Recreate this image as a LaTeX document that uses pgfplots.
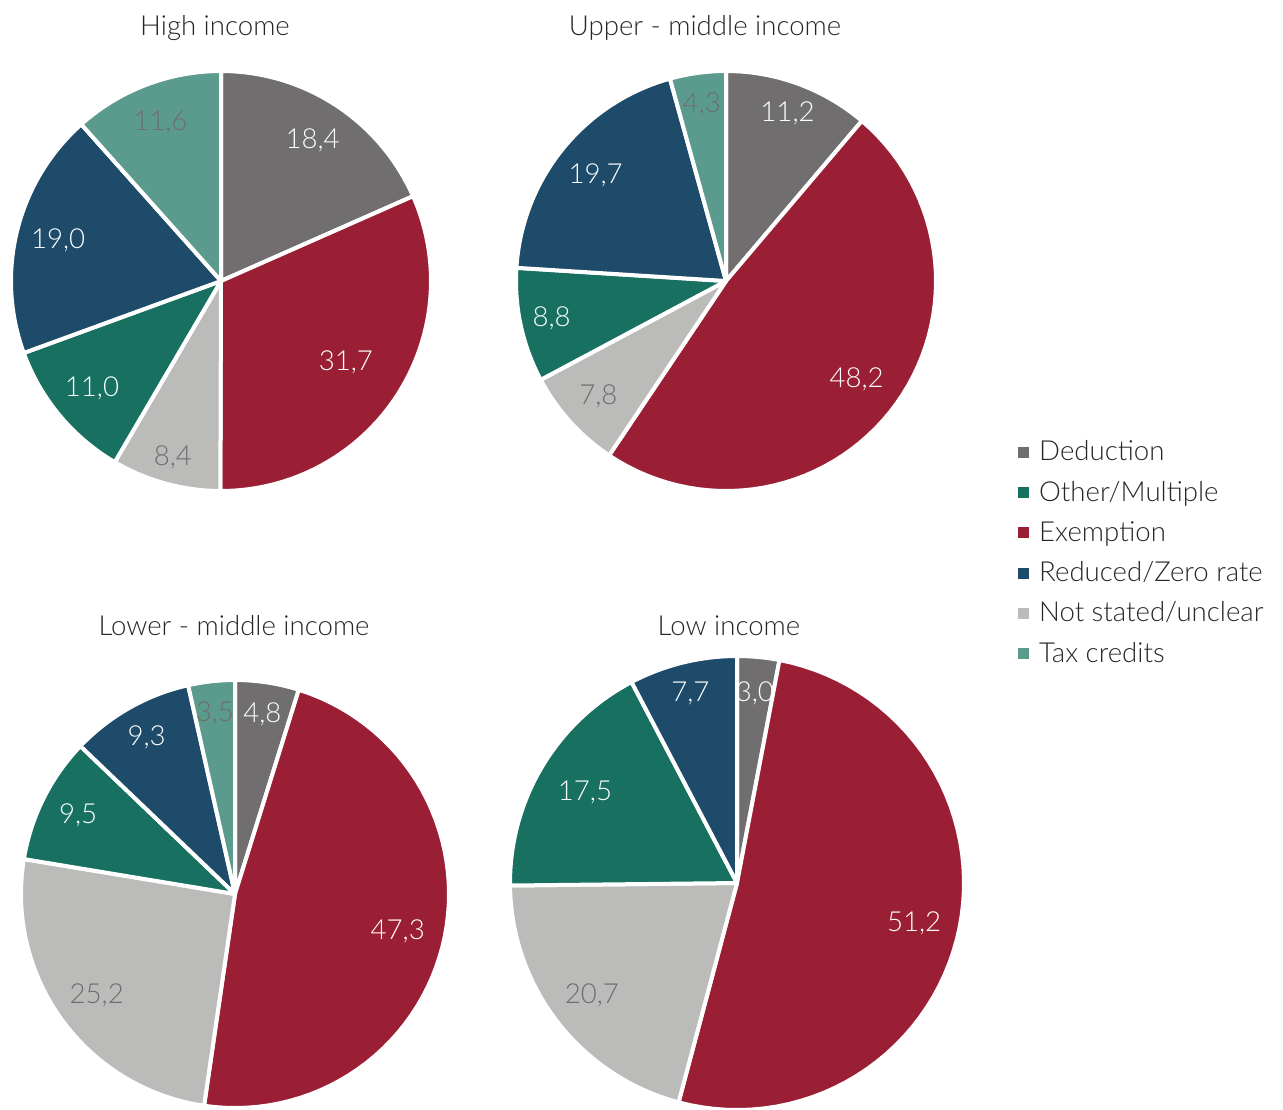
\documentclass[border=0pt]{standalone}
\usepackage{pgfplots}
\usepackage{pgfplotstable}
\pgfplotsset{compat=1.18}
\usepackage{fontspec}
\setmainfont{Lato Light}

\definecolor{cded}{HTML}{706E6F}
\definecolor{cexe}{HTML}{9A1F34}
\definecolor{cnot}{HTML}{BBBBBA}
\definecolor{coth}{HTML}{177060}
\definecolor{cred}{HTML}{1E4B69}
\definecolor{ctax}{HTML}{5B9B8E}
\definecolor{ctxg}{HTML}{6F6D6D}
\definecolor{ctitle}{HTML}{262626}

\newcommand{\ff}{\fontsize{13.8}{16}\selectfont}
\pgfkeys{/pgf/number format/.cd, use comma, fixed, fixed zerofill, precision=1, assume math mode=true}

% slices clockwise from 12 o'clock: value, fill, label colour, label radius
\pgfplotstableread{
v    col  txt   r
18.4 cded white 0.80
31.7 cexe white 0.71
8.4  cnot ctxg  0.87
11.0 coth white 0.80
19.0 cred white 0.80
11.6 ctax ctxg  0.81
}\highinc
\pgfplotstableread{
v    col  txt   r
11.2 cded white 0.85
48.2 cexe white 0.78
7.8  cnot ctxg  0.82
8.8  coth white 0.85
19.7 cred white 0.80
4.3  ctax ctxg  0.85
}\uppinc
\pgfplotstableread{
v    col  txt   r
4.8  cded white 0.85
47.3 cexe white 0.78
25.2 cnot ctxg  0.80
9.5  coth white 0.82
9.3  cred white 0.84
3.5  ctax ctxg  0.85
}\lowmidinc
\pgfplotstableread{
v    col  txt   r
3.0  cded white 0.84
51.2 cexe white 0.80
20.7 cnot ctxg  0.81
17.5 coth white 0.78
7.7  cred white 0.86
}\lowinc

% builds the plot commands of one pie into #2 (run outside the axis)
\newcommand{\preppie}[2]{%
  \pgfplotstablegetrowsof{#1}%
  \pgfmathtruncatemacro{\lastrow}{\pgfplotsretval-1}%
  \gdef\pietot{0}%
  \foreach \i in {0,...,\lastrow}{%
    \pgfplotstablegetelem{\i}{v}\of{#1}%
    \pgfmathparse{\pietot+\pgfplotsretval}\xdef\pietot{\pgfmathresult}}%
  \gdef\piecum{0}%
  \gdef#2{}%
  \foreach \i in {0,...,\lastrow}{%
    \pgfplotstablegetelem{\i}{v}\of{#1}\let\val\pgfplotsretval
    \pgfplotstablegetelem{\i}{col}\of{#1}\let\wcol\pgfplotsretval
    \pgfplotstablegetelem{\i}{txt}\of{#1}\let\tcol\pgfplotsretval
    \pgfplotstablegetelem{\i}{r}\of{#1}\let\rfac\pgfplotsretval
    \pgfmathsetmacro{\pa}{\piecum/\pietot*360}%
    \pgfmathsetmacro{\pb}{(\piecum+\val)/\pietot*360}%
    \pgfmathsetmacro{\pmid}{(\pa+\pb)/2}%
    \pgfmathsetmacro{\lx}{\rfac*sin(\pmid)}%
    \pgfmathsetmacro{\ly}{\rfac*cos(\pmid)}%
    \xdef#2{\expandafter\unexpanded\expandafter{#2}%
      \noexpand\addplot[fill=\wcol, draw=white, line width=2pt, line join=round,
        domain=\pa:\pb, samples=60] ({sin(x)},{cos(x)}) -- (0,0) -- cycle;
      \noexpand\node[text=\tcol, font=\noexpand\ff] at (\lx,\ly) {\noexpand\pgfmathprintnumber{\val}};}%
    \pgfmathparse{\piecum+\val}\xdef\piecum{\pgfmathresult}}%
}

\pgfplotsset{pie/.style={hide axis, scale only axis, xmin=-1, xmax=1, ymin=-1, ymax=1,
  clip=false, anchor=center}}

\preppie{\highinc}{\pieA}
\preppie{\uppinc}{\pieB}
\preppie{\lowmidinc}{\pieC}
\preppie{\lowinc}{\pieD}

\begin{document}
\begin{tikzpicture}
\path[use as bounding box] (0,0) rectangle (641.5pt,-554.5pt);

\begin{axis}[pie, at={(110.5pt,-140.5pt)}, width=210pt, height=210pt]
\pieA
\end{axis}
\begin{axis}[pie, at={(363pt,-140.5pt)}, width=210pt, height=210pt]
\pieB
\end{axis}
\begin{axis}[pie, at={(117.5pt,-447pt)}, width=214pt, height=214pt]
\pieC
\end{axis}
\begin{axis}[pie, at={(368.5pt,-441.5pt)}, width=227pt, height=227pt]
\pieD
\end{axis}

\node[font=\ff, text=ctitle] at (107.5pt,-14pt) {High income};
\node[font=\ff, text=ctitle] at (352.5pt,-14pt) {Upper - middle income};
\node[font=\ff, text=ctitle] at (117pt,-313pt) {Lower - middle income};
\node[font=\ff, text=ctitle] at (364.5pt,-313pt) {Low income};

\begin{axis}[hide axis, scale only axis, width=1pt, height=1pt, anchor=center,
  at={(509pt,-276.5pt)}, xmin=0, xmax=1, ymin=0, ymax=1,
  legend style={at={(0.5,0.5)}, anchor=west, draw=none, fill=none, inner sep=0pt,
    font=\ff, text=ctitle, row sep=4.6pt, cells={anchor=west}},
  legend image code/.code={\fill[#1] (0pt,-2.5pt) rectangle (5pt,2.5pt); \path (8pt,0pt);}]
\addlegendimage{cded}
\addlegendentry{Deduction}
\addlegendimage{coth}
\addlegendentry{Other/Multiple}
\addlegendimage{cexe}
\addlegendentry{Exemption}
\addlegendimage{cred}
\addlegendentry{Reduced/Zero rate}
\addlegendimage{cnot}
\addlegendentry{Not stated/unclear}
\addlegendimage{ctax}
\addlegendentry{Tax credits}
\end{axis}
\end{tikzpicture}
\end{document}
